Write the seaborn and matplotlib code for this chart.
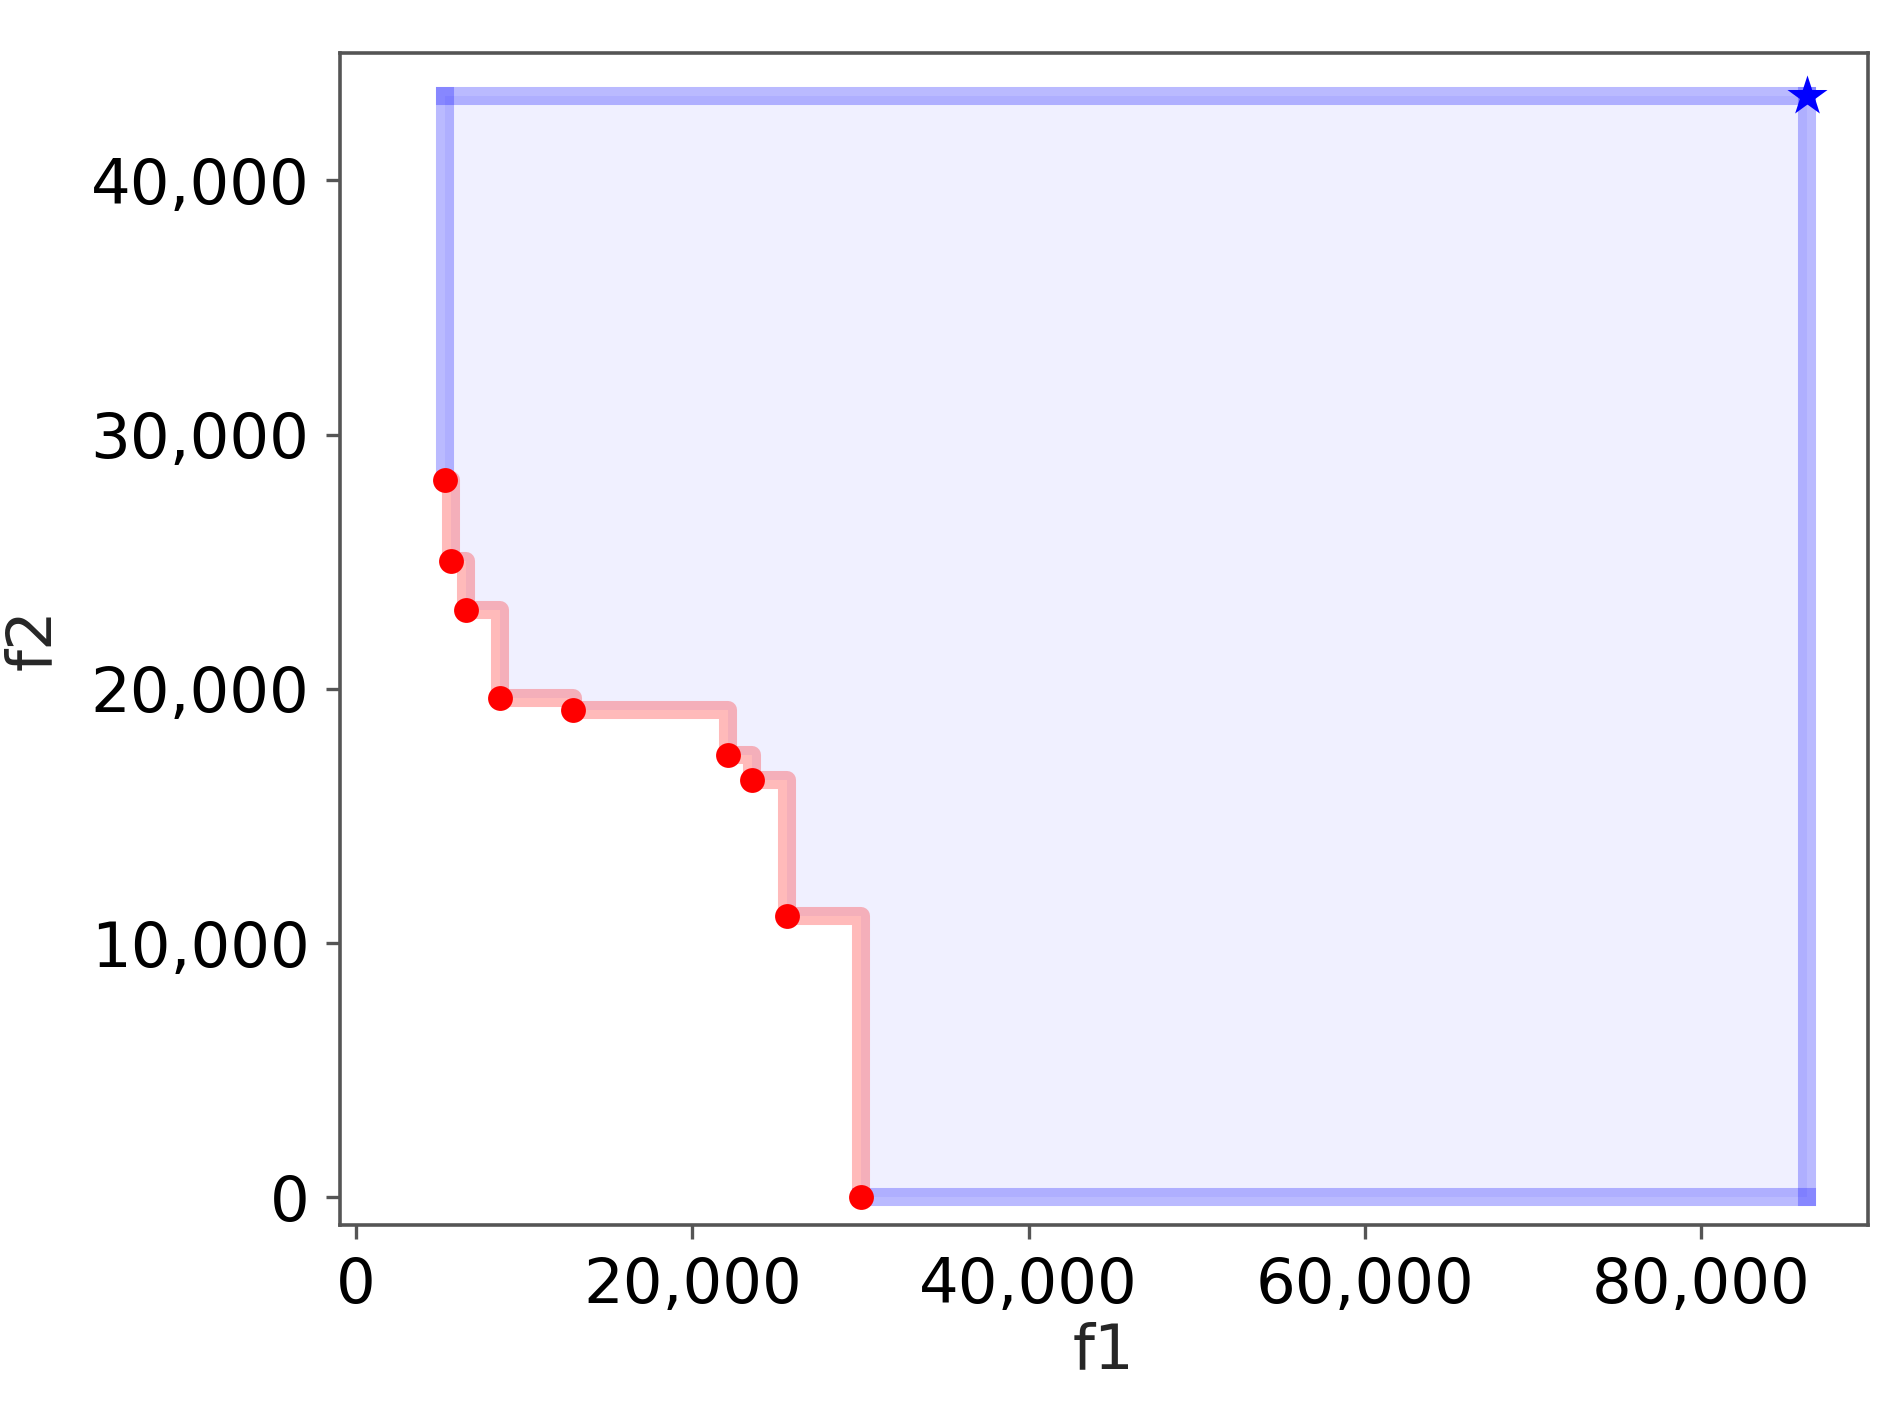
import matplotlib
matplotlib.use("Agg")
import matplotlib.pyplot as plt
import numpy as np
import seaborn as sns
from matplotlib.ticker import StrMethodFormatter

# non-dominated front (f1 ascending)
f1 = [5310, 5670, 6560, 8540, 12880, 22100, 23550, 25600, 30050]
f2 = [28230, 25010, 23110, 19640, 19150, 17400, 16420, 11050, 0]

# reference point
ref_f1 = 86270
ref_f2 = 43300

sns.set_theme(style="ticks")
plt.rcParams["font.family"] = ["DejaVu Sans"]

fig = plt.figure(figsize=(9.46, 7.05), dpi=200)
ax = fig.add_axes([0.1797, 0.1312, 0.8076, 0.8312])

# dominated region
fill_x = np.append(f1, ref_f1)
fill_y = np.append(f2, f2[-1])
ax.fill_between(fill_x, fill_y, ref_f2, step="post", color="blue", alpha=0.06, lw=0)

# reference box edges
box_kw = dict(color="blue", alpha=0.27, lw=6.5, solid_capstyle="projecting")
ax.plot([f1[0], f1[0]], [f2[0], ref_f2], **box_kw)
ax.plot([f1[0], ref_f1], [ref_f2, ref_f2], **box_kw)
ax.plot([ref_f1, ref_f1], [ref_f2, f2[-1]], **box_kw)
ax.plot([f1[-1], ref_f1], [f2[-1], f2[-1]], **box_kw)

# attainment staircase
ax.step(f1, f2, where="post", color="red", alpha=0.27, lw=6.5,
        solid_joinstyle="round", solid_capstyle="round")

sns.scatterplot(x=f1, y=f2, ax=ax, color="red", s=80, linewidth=0, zorder=5)
sns.scatterplot(x=[ref_f1], y=[ref_f2], ax=ax, color="blue", marker="*",
                s=230, linewidth=0, zorder=5)

ax.set_xlim(-960, 89900)
ax.set_ylim(-1090, 45010)
ax.set_xticks([0, 20000, 40000, 60000, 80000])
ax.set_yticks([0, 10000, 20000, 30000, 40000])
ax.xaxis.set_major_formatter(StrMethodFormatter("{x:,.0f}"))
ax.yaxis.set_major_formatter(StrMethodFormatter("{x:,.0f}"))

for side in ["top", "right", "bottom", "left"]:
    ax.spines[side].set_visible(True)
    ax.spines[side].set_color("#555555")
    ax.spines[side].set_linewidth(1.3)
ax.tick_params(axis="both", labelsize=22.5, length=5, width=1.2, color="#555555",
               labelcolor="black", pad=6)

ax.set_xlabel("f1", fontsize=22.5, labelpad=2)
ax.set_ylabel("f2", fontsize=22.5, labelpad=10)

fig.savefig("out.png", dpi=200)
